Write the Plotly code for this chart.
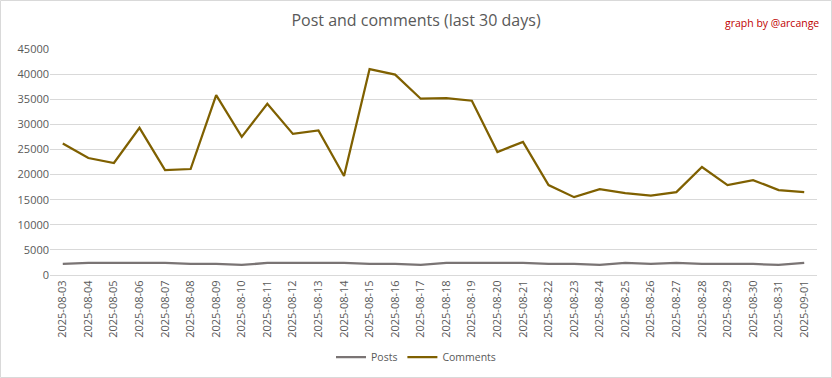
import plotly.graph_objects as go

dates = ["2025-08-03","2025-08-04","2025-08-05","2025-08-06","2025-08-07","2025-08-08",
         "2025-08-09","2025-08-10","2025-08-11","2025-08-12","2025-08-13","2025-08-14",
         "2025-08-15","2025-08-16","2025-08-17","2025-08-18","2025-08-19","2025-08-20",
         "2025-08-21","2025-08-22","2025-08-23","2025-08-24","2025-08-25","2025-08-26",
         "2025-08-27","2025-08-28","2025-08-29","2025-08-30","2025-08-31","2025-09-01"]
posts = [2200, 2400, 2400, 2400, 2400, 2200, 2200, 2000, 2400, 2400, 2400, 2400,
         2200, 2200, 2000, 2400, 2400, 2400, 2400, 2200, 2200, 2000, 2400, 2200,
         2400, 2200, 2200, 2200, 2000, 2400]
comments = [26200, 23300, 22300, 29300, 20900, 21100, 35800, 27500, 34100, 28100, 28800, 19700,
            41000, 39900, 35100, 35200, 34700, 24500, 26500, 17900, 15500, 17100, 16300, 15800,
            16500, 21500, 17900, 18900, 16900, 16500]
y_ticks = [0, 5000, 10000, 15000, 20000, 25000, 30000, 35000, 40000, 45000]
y_labels = [str(v) for v in y_ticks]

fig = go.Figure()
fig.add_trace(go.Scatter(x=dates, y=posts, mode="lines", name="Posts",
                         line=dict(color="#7a7474", width=2.25)))
fig.add_trace(go.Scatter(x=dates, y=comments, mode="lines", name="Comments",
                         line=dict(color="#7f6000", width=2.25)))

W, H = 832, 378
L, R, T, B = 50, 15, 49, 103
pw, ph = W - L - R, H - T - B

fig.update_layout(
    width=W, height=H,
    margin=dict(l=L, r=R, t=T, b=B, autoexpand=False),
    paper_bgcolor="white", plot_bgcolor="white",
    font=dict(family="Open Sans, sans-serif", color="#595959", size=11),
    title=dict(text="Post and comments (last 30 days)", x=0.5, xanchor="center",
               xref="container", yref="container",
               y=1 - 20 / H, yanchor="middle",
               font=dict(family="Open Sans, sans-serif", size=16, color="#595959")),
    showlegend=True,
    legend=dict(orientation="h", x=0.5, xanchor="center", xref="container", yref="container",
                y=1 - 357 / H, yanchor="middle", font=dict(size=10.5, color="#595959"),
                itemwidth=30, tracegroupgap=0),
    xaxis=dict(type="category", showgrid=False, tickangle=-90, tickfont=dict(size=11),
               showline=True, linecolor="#d9d9d9", linewidth=1, ticks="", automargin=False,
               range=[-0.5, len(dates) - 0.5], fixedrange=True),
    yaxis=dict(range=[0, 45000], tickvals=y_ticks, ticktext=y_labels, showgrid=True,
               gridcolor="#d9d9d9", automargin=False,
               gridwidth=1, zeroline=False, showline=False, tickfont=dict(size=11),
               ticks="", fixedrange=True),
    annotations=[dict(text="graph by @arcange", xref="paper", yref="paper",
                      x=(821 - L) / pw, y=(H - 23 - B) / ph, xanchor="right", yanchor="middle",
                      showarrow=False, font=dict(family="Open Sans, sans-serif", size=10.5,
                                                 color="#c00000"))],
    shapes=[dict(type="rect", xref="paper", yref="paper",
                 x0=(0.5 - L) / pw, x1=(W - 0.5 - L) / pw,
                 y0=(0.5 - B) / ph, y1=(H - 0.5 - B) / ph,
                 line=dict(color="#d9d9d9", width=1), fillcolor="rgba(0,0,0,0)", layer="below")],
)

fig.write_html("out.html", config={"displayModeBar": False},
               post_script="document.body.style.margin='0';")
